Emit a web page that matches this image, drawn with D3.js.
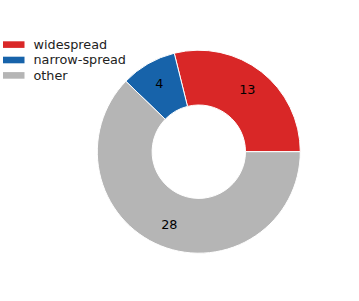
<!DOCTYPE html>
<html><head><meta charset="utf-8">
<script src="https://cdn.jsdelivr.net/npm/d3@7"></script>
<style>body{margin:0;background:#fff}svg{display:block}</style>
</head><body>
<script>
const categories = ["widespread", "narrow-spread", "other"];
const values = [13, 4, 28];
const colors = ["#d92727", "#1763aa", "#b5b5b5"];

const W = 359, H = 301;
const cx = 198.8, cy = 151.7, R = 101.5, r0 = 46.7, rLab = 78.8;
const font = "DejaVu Sans, sans-serif";

const svg = d3.select("body").append("svg").attr("width", W).attr("height", H);

// matplotlib style: start at 3 o'clock, counterclockwise
const pie = d3.pie().sort(null).value(d => d)
  .startAngle(Math.PI / 2).endAngle(Math.PI / 2 - 2 * Math.PI);
const arcs = pie(values);
const arc = d3.arc().innerRadius(r0).outerRadius(R);
const labArc = d3.arc().innerRadius(rLab).outerRadius(rLab);

const g = svg.append("g").attr("transform", `translate(${cx},${cy})`);
g.selectAll("path").data(arcs).join("path")
  .attr("d", arc)
  .attr("fill", (d, i) => colors[i])
  .attr("stroke", "#fff").attr("stroke-width", 1).attr("stroke-linejoin", "round");

g.selectAll("text").data(arcs).join("text")
  .attr("transform", d => `translate(${labArc.centroid(d)})`)
  .attr("text-anchor", "middle").attr("dominant-baseline", "central")
  .attr("font-family", font).attr("font-size", 12.8).attr("fill", "#000")
  .text(d => d.data);

// legend
const lg = svg.append("g");
const rowY = d3.scaleLinear().domain([0, 1]).range([44.5, 59.9]);
categories.forEach((c, i) => {
  const y = rowY(i);
  lg.append("rect").attr("x", 3).attr("y", y - 3.2).attr("width", 21.5).attr("height", 6.6)
    .attr("fill", colors[i]);
  lg.append("text").attr("x", 33.5).attr("y", y).attr("dominant-baseline", "central")
    .attr("font-family", font).attr("font-size", 12.8).attr("fill", "#222").text(c);
});
</script>
</body></html>
